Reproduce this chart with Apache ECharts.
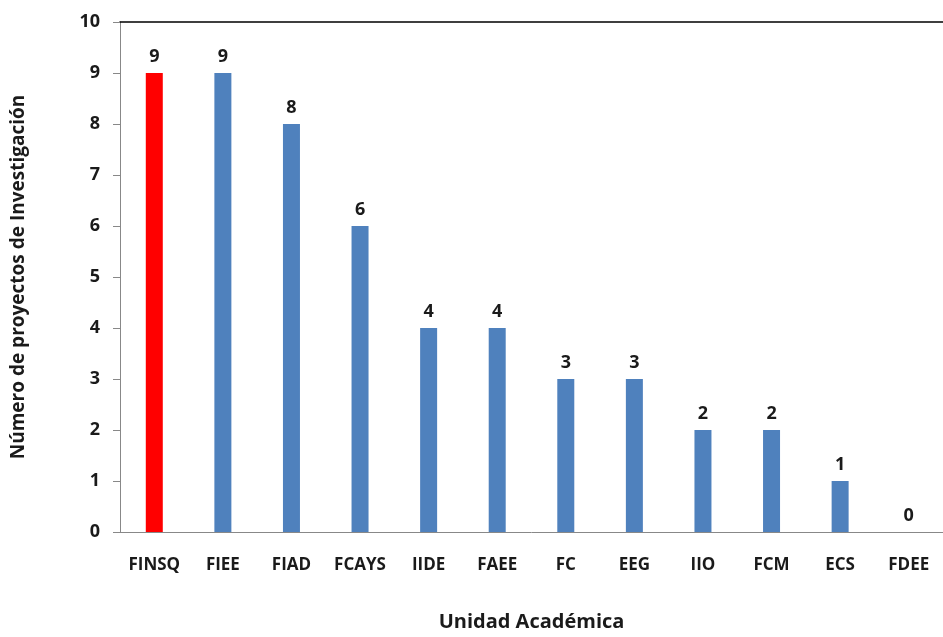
<!DOCTYPE html>
<html>
<head>
<meta charset="utf-8">
<script src="https://cdn.jsdelivr.net/npm/echarts@6/dist/echarts.min.js"></script>
<style>html,body{margin:0;padding:0;background:#fff}#c{width:943px;height:637px}</style>
</head>
<body>
<div id="c"></div>
<script>
var categories = ['FINSQ','FIEE','FIAD','FCAYS','IIDE','FAEE','FC','EEG','IIO','FCM','ECS','FDEE'];
var values = [9,9,8,6,4,4,3,3,2,2,1,0];
var highlightIndex = 0;
var yTicks = [0,1,2,3,4,5,6,7,8,9,10];

var font = '"Open Sans", "Noto Sans", sans-serif';
var chart = echarts.init(document.getElementById('c'));
chart.setOption({
  animation: false,
  backgroundColor: '#ffffff',
  grid: {left: 120, top: 22, bottom: 100, right: -9, containLabel: false},
  xAxis: [{
    type: 'category',
    data: categories,
    axisLine: {lineStyle: {color: '#888888', width: 1}},
    axisTick: {show: false},
    axisLabel: {interval: 0, hideOverlap: false, color: '#1a1a1a', fontFamily: font, fontWeight: 'bold', fontSize: 17, margin: 25},
    name: 'Unidad Académica',
    nameLocation: 'middle',
    nameGap: 80,
    nameTextStyle: {color: '#1a1a1a', fontFamily: font, fontWeight: 'bold', fontSize: 20}
  }, {
    type: 'category',
    position: 'top',
    data: categories,
    axisLine: {lineStyle: {color: '#000000', width: 1.5}},
    axisTick: {show: false},
    axisLabel: {show: false}
  }],
  yAxis: {
    type: 'value',
    min: 0, max: 10, interval: 1,
    axisLine: {show: true, lineStyle: {color: '#888888'}},
    axisTick: {show: true, length: 7, lineStyle: {color: '#888888'}},
    splitLine: {show: false},
    axisLabel: {color: '#1a1a1a', fontFamily: font, fontWeight: 'bold', fontSize: 18, margin: 20,
      formatter: function (v) { return yTicks.indexOf(v) >= 0 ? String(v) : ''; }},
    name: 'Número de proyectos de Investigación',
    nameLocation: 'middle',
    nameGap: 92,
    nameTextStyle: {color: '#1a1a1a', fontFamily: font, fontWeight: 'bold', fontSize: 19}
  },
  series: [{
    type: 'bar',
    data: values.map(function (v, i) {
      return {value: v, itemStyle: {color: i === highlightIndex ? '#ff0000' : '#4f81bd'}};
    }),
    barWidth: 17,
    label: {show: true, position: 'top', distance: 7, color: '#1a1a1a', fontFamily: font, fontWeight: 'bold', fontSize: 18}
  }]
});
</script>
</body>
</html>
